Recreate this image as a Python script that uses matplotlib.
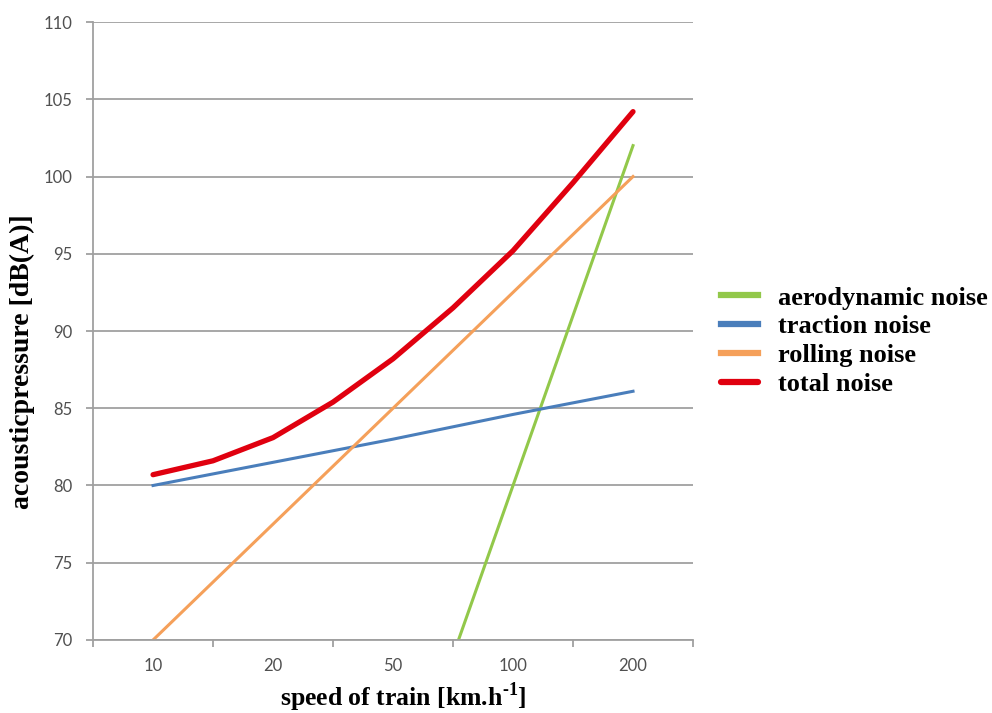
import matplotlib
matplotlib.use("Agg")
import matplotlib.pyplot as plt

plt.rcParams["mathtext.fontset"] = "custom"
plt.rcParams["mathtext.bf"] = "Liberation Serif:bold"
plt.rcParams["mathtext.rm"] = "Liberation Serif:bold"

# speed categories (km/h), placed at evenly spaced positions like an Excel category axis
speeds = ["10", "20", "50", "100", "200"]
pos = [0, 1, 2, 3, 4]

aerodynamic = [58.0, 80.0, 102.0]   # for 50, 100, 200 km/h
traction = [80.0, 81.5, 83.0, 84.6, 86.1]
rolling = [70.0, 77.5, 85.0, 92.5, 100.0]

# total noise read at the categories and halfway between them
total_pos = [0, 0.5, 1, 1.5, 2, 2.5, 3, 3.5, 4]
total = [80.7, 81.6, 83.1, 85.4, 88.2, 91.5, 95.2, 99.6, 104.2]

fig = plt.figure(figsize=(9.92, 7.13), dpi=100)
ax = fig.add_axes([0.0938, 0.1024, 0.6048, 0.8667])

green = "#92c84a"
blue = "#4a7ebb"
orange = "#f5a05a"
red = "#e0000f"

ax.plot(pos[2:], aerodynamic, color=green, lw=2.2, label="aerodynamic noise")
ax.plot(pos, traction, color=blue, lw=2.2, label="traction noise")
ax.plot(pos, rolling, color=orange, lw=2.2, label="rolling noise")
ax.plot(total_pos, total, color=red, lw=3.8, label="total noise",
        solid_capstyle="round", solid_joinstyle="round")

ax.set_xlim(-0.5, 4.5)
ax.set_ylim(70, 110)
ax.set_yticks(range(70, 111, 5))
ax.set_xticks(pos)
ax.set_xticklabels(speeds)
ax.set_xticks([-0.5, 0.5, 1.5, 2.5, 3.5, 4.5], minor=True)

gray = "#a0a0a0"
ax.grid(axis="y", color=gray, lw=1.3)
ax.set_axisbelow(True)
for s in ["top", "right"]:
    ax.spines[s].set_visible(False)
for s in ["left", "bottom"]:
    ax.spines[s].set_color(gray)
    ax.spines[s].set_linewidth(1.3)

ax.tick_params(axis="x", which="major", length=0, pad=13, labelsize=12, labelcolor="#505050")
ax.tick_params(axis="x", which="minor", length=5, color=gray, width=1.3)
ax.tick_params(axis="y", length=5, color=gray, width=1.3, pad=10, labelsize=12, labelcolor="#505050")
for t in ax.get_xticklabels() + ax.get_yticklabels():
    t.set_family("Lato")

fig.text(403 / 992, 1 - 697 / 713, "speed of train [km.h$^{\\mathbf{\u20101}}$]",
         family="Liberation Serif", fontsize=18.5, fontweight="bold", ha="center", va="center")
fig.text(22 / 992, 1 - 362 / 713, "acousticpressure [dB(A)]", family="Liberation Serif",
         fontsize=20, fontweight="bold", rotation=90, ha="center", va="center")

leg = ax.legend(loc="center left", bbox_to_anchor=(1.047, 0.484), frameon=False,
                prop={"family": "Liberation Serif", "weight": "bold", "size": 19},
                handlelength=1.4, handletextpad=0.75, labelspacing=0.2,
                borderaxespad=0, borderpad=0)
for h in leg.get_lines():
    h.set_linewidth(4.5)

fig.savefig("out.png", dpi=100)
